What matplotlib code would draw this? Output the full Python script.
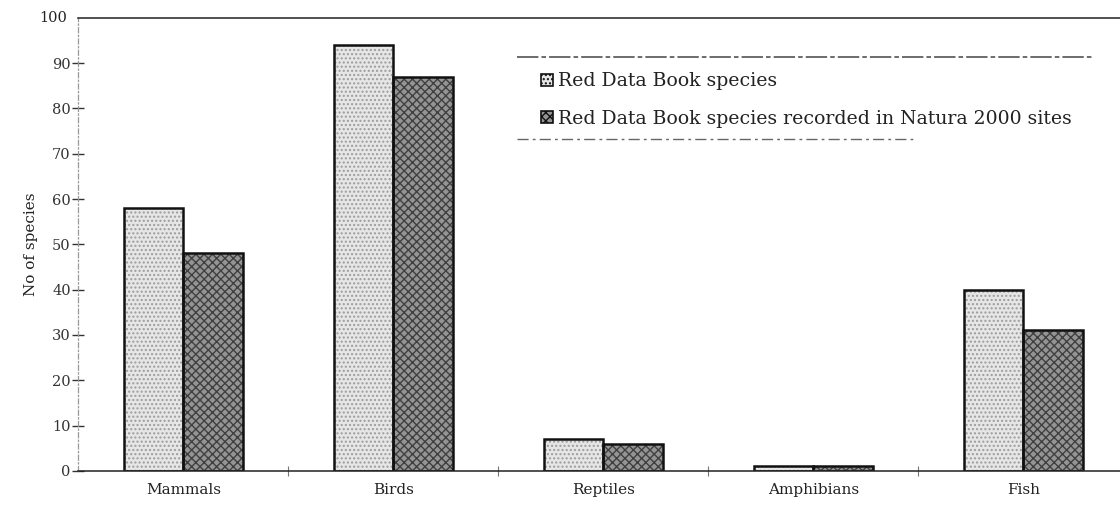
import numpy as np
import matplotlib
matplotlib.use("Agg")
import matplotlib.pyplot as plt
from matplotlib.patches import Patch
from matplotlib.lines import Line2D

# --- data ---
categories = ["Mammals", "Birds", "Reptiles", "Amphibians", "Fish"]
rdb_species = [58, 94, 7, 1, 40]
rdb_in_natura = [48, 87, 6, 1, 31]
series_labels = ["Red Data Book species",
                 "Red Data Book species recorded in Natura 2000 sites"]
y_ticks = [0, 10, 20, 30, 40, 50, 60, 70, 80, 90, 100]

plt.rcParams['font.family'] = ['DejaVu Serif']

fig = plt.figure(figsize=(11.2, 5.08), dpi=100)
ax = fig.add_axes([0.07, 0.073, 0.93, 0.892])

x = np.arange(len(categories))
w = 0.285

light_face, light_hatch = '#e6e6e6', '#9c9c9c'
dark_face, dark_hatch = '#949494', '#404040'

# hatch pass (hatch colour comes from the edge colour), then black outline
ax.bar(x - w / 2, rdb_species, w, color=light_face, edgecolor=light_hatch,
       hatch='....', linewidth=0)
ax.bar(x + w / 2, rdb_in_natura, w, color=dark_face, edgecolor=dark_hatch,
       hatch='xxxx', linewidth=0)
ax.bar(x - w / 2, rdb_species, w, fill=False, edgecolor='#111111', linewidth=1.8)
ax.bar(x + w / 2, rdb_in_natura, w, fill=False, edgecolor='#111111', linewidth=1.8)

ax.set_xlim(-0.5, 4.46)
ax.set_ylim(0, 100)

ax.set_yticks(y_ticks[:-1])
ax.set_yticklabels([str(v) for v in y_ticks[:-1]], fontsize=10.5, color='#222222')
ax.tick_params(axis='y', direction='inout', length=9, width=1.0, pad=1,
               colors='#333333')
ax.text(-0.555, 100, "100", transform=ax.transData, ha='right', va='center',
        fontsize=10.5, color='#222222')

ax.set_xticks(x)
ax.set_xticklabels(categories, fontsize=11, color='#222222')
ax.tick_params(axis='x', length=0, pad=9)
ax.set_xticks(x[:-1] + 0.5, minor=True)
ax.tick_params(axis='x', which='minor', direction='inout', length=7, width=0.8,
               color='#777777')

ax.set_ylabel("No of species", fontsize=11, color='#222222', labelpad=10)

for side in ['top', 'bottom']:
    ax.spines[side].set_color('#222222')
    ax.spines[side].set_linewidth(1.1)
ax.spines['right'].set_visible(False)
ax.spines['left'].set_color('#999999')
ax.spines['left'].set_linewidth(0.9)
ax.spines['left'].set_linestyle((0, (4, 2, 1, 2)))

handles = [Patch(facecolor=light_face, edgecolor='#111111', hatch='....', linewidth=1.2),
           Patch(facecolor=dark_face, edgecolor='#111111', hatch='xxxx', linewidth=1.2)]
leg = fig.legend(handles, series_labels, loc='center left',
                 bbox_to_anchor=(0.475, 0.803), bbox_transform=fig.transFigure,
                 frameon=False, fontsize=13.6,
                 handlelength=0.6, handleheight=0.6, handletextpad=0.3,
                 labelspacing=1.02, borderpad=0)
for t in leg.get_texts():
    t.set_color('#222222')

# dashed rules above and below the legend
fig.add_artist(Line2D([0.4616, 0.976], [0.888, 0.888], color='#444444',
                      linewidth=1.1, linestyle=(0, (14, 2, 3, 2))))
fig.add_artist(Line2D([0.4616, 0.819], [0.726, 0.726], color='#666666',
                      linewidth=1.0, linestyle=(0, (8, 3, 2, 3))))

fig.savefig("out.png", dpi=100)
